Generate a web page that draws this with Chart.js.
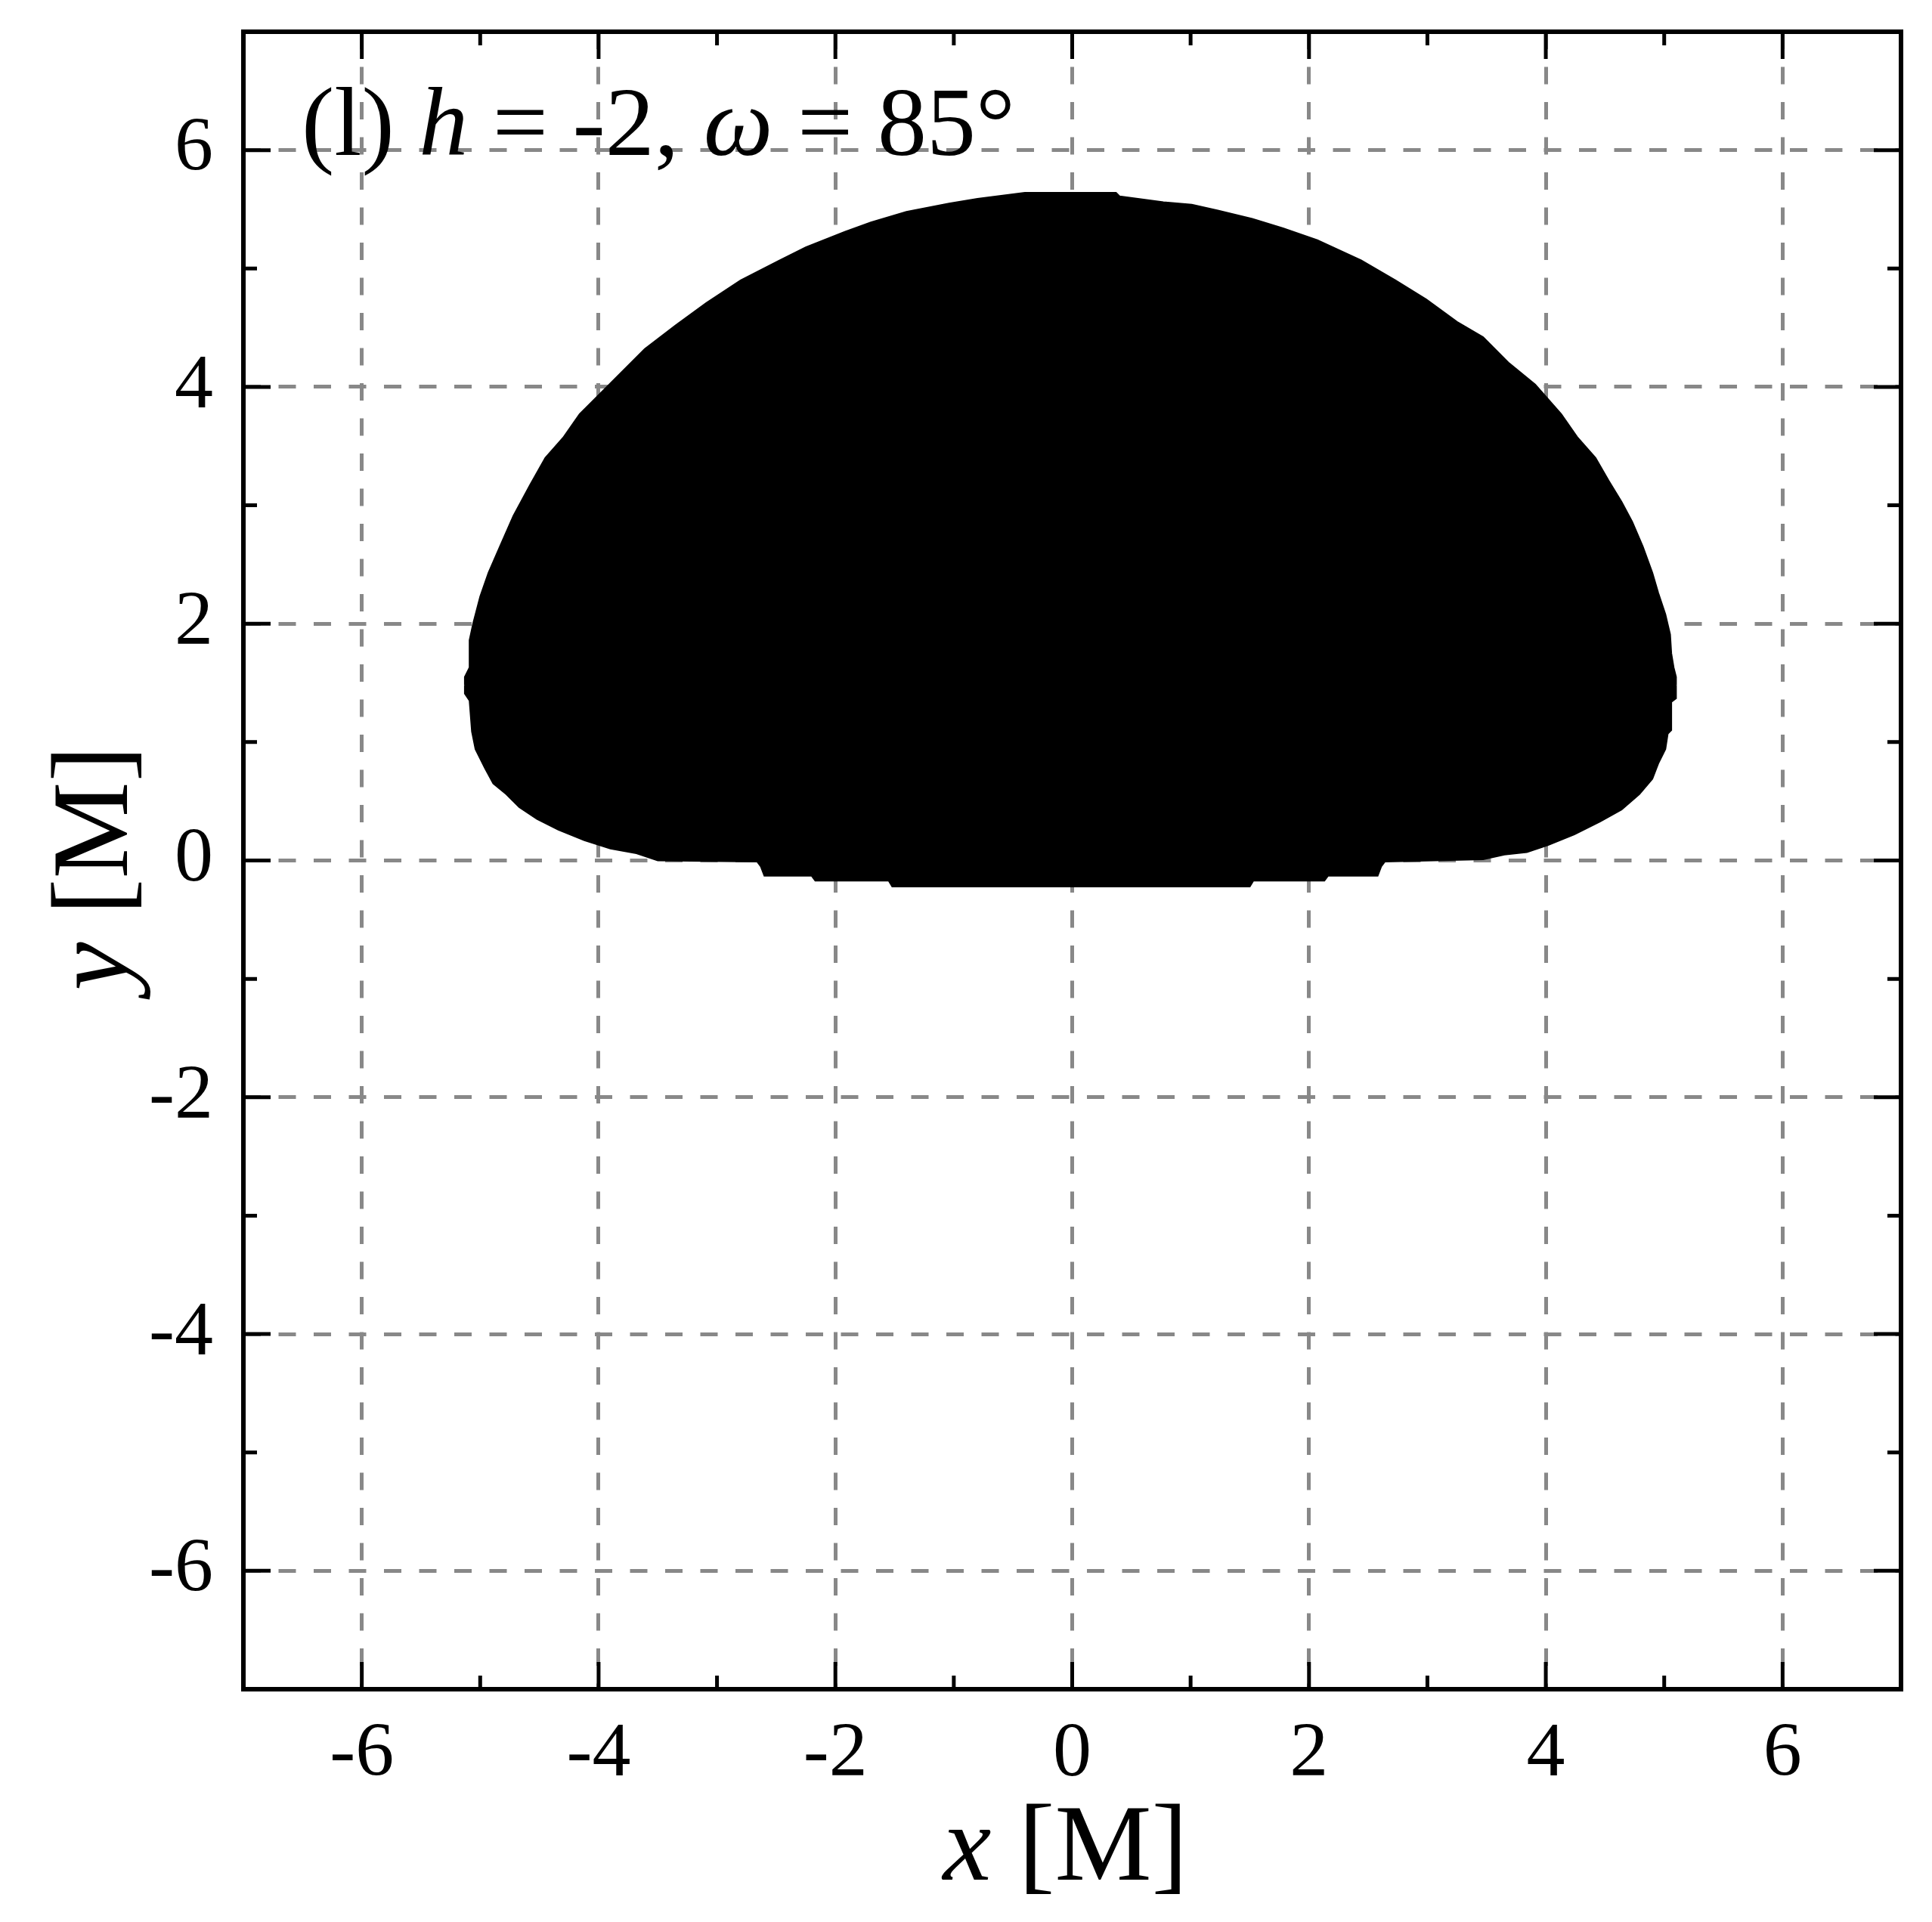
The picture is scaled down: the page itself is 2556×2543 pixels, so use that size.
<!DOCTYPE html>
<html>
<head>
<meta charset="utf-8">
<script src="https://cdn.jsdelivr.net/npm/chart.js@4.4.0/dist/chart.umd.min.js"></script>
<style>
  html, body { margin: 0; padding: 0; background: #fff; }
  #wrap { width: 2556px; height: 2543px; }
</style>
</head>
<body>
<div id="wrap"><canvas id="chart" width="2556" height="2543"></canvas></div>
<script>
// shadow outline, [x, y] in M
const upperEdge = [
  [-5.13, 1.48], [-5.13, 1.55], [-5.09, 1.63], [-5.09, 1.86], [-5.06, 2.00],
  [-5.00, 2.23], [-4.93, 2.43], [-4.83, 2.66], [-4.72, 2.91], [-4.58, 3.17],
  [-4.45, 3.40], [-4.30, 3.57], [-4.16, 3.77], [-3.90, 4.03], [-3.61, 4.32],
  [-3.35, 4.52], [-3.09, 4.71], [-2.80, 4.90], [-2.47, 5.07], [-2.25, 5.18],
  [-1.92, 5.31], [-1.70, 5.39], [-1.40, 5.48], [-1.04, 5.55], [-0.80, 5.59],
  [-0.40, 5.64], [0.37, 5.64], [0.40, 5.61], [0.77, 5.56], [1.01, 5.54],
  [1.23, 5.49], [1.52, 5.42], [1.78, 5.34], [2.07, 5.24], [2.44, 5.07],
  [2.73, 4.90], [2.99, 4.74], [3.25, 4.55], [3.47, 4.42], [3.69, 4.20],
  [3.91, 4.02], [4.13, 3.77], [4.27, 3.57], [4.42, 3.40], [4.53, 3.21],
  [4.64, 3.03], [4.73, 2.86], [4.82, 2.65], [4.90, 2.43], [4.95, 2.26],
  [5.01, 2.08], [5.05, 1.91], [5.06, 1.75], [5.08, 1.63], [5.10, 1.55],
  [5.10, 1.48]
];
const lowerEdge = [
  [-5.13, 1.48], [-5.13, 1.41], [-5.09, 1.35], [-5.07, 1.09], [-5.04, 0.94],
  [-4.96, 0.78], [-4.89, 0.65], [-4.78, 0.56], [-4.67, 0.45], [-4.52, 0.35],
  [-4.34, 0.26], [-4.12, 0.17], [-3.90, 0.10], [-3.68, 0.06], [-3.50, 0.00],
  [-2.66, -0.01], [-2.63, -0.05], [-2.60, -0.13], [-2.20, -0.13], [-2.17, -0.17],
  [-1.55, -0.17], [-1.52, -0.22], [1.50, -0.22], [1.53, -0.17], [2.13, -0.17],
  [2.16, -0.13], [2.58, -0.13], [2.61, -0.05], [2.64, -0.01], [3.47, 0.01],
  [3.65, 0.05], [3.84, 0.07], [4.02, 0.13], [4.24, 0.22], [4.46, 0.33],
  [4.64, 0.43], [4.79, 0.56], [4.90, 0.69], [4.95, 0.82], [5.01, 0.94],
  [5.03, 1.07], [5.06, 1.10], [5.06, 1.34], [5.10, 1.37], [5.10, 1.48]
];
const tickValues = [-6, -5, -4, -3, -2, -1, 0, 1, 2, 3, 4, 5, 6];
const labelValues = [-6, -4, -2, 0, 2, 4, 6];
const axisMin = -7, axisMax = 7;

const panelTitle = [['(l) ', false], ['h', true], [' = -2, ', false], ['\u03C9', true], [' = 85\u00B0', false]];
const xTitle = [['x', true], [' [M]', false]];
const yTitle = [['y', true], [' [M]', false]];

const FONT = '"Liberation Serif", "Times New Roman", serif';

function runsWidth(ctx, runs, size) {
  let w = 0;
  for (const [t, it] of runs) {
    ctx.font = (it ? 'italic ' : '') + size + 'px ' + FONT;
    w += ctx.measureText(t).width;
  }
  return w;
}
function drawRuns(ctx, runs, x, y, size) {
  for (const [t, it] of runs) {
    ctx.font = (it ? 'italic ' : '') + size + 'px ' + FONT;
    ctx.fillText(t, x, y);
    x += ctx.measureText(t).width;
  }
}

// frame, inward ticks on all four sides and the text labels
const framePlugin = {
  id: 'frame',
  afterDraw(chart) {
    const { ctx, chartArea: a, scales: { x, y } } = chart;
    ctx.save();
    ctx.strokeStyle = '#000';
    ctx.lineWidth = 5;
    ctx.beginPath();
    tickValues.forEach(v => {
      const len = labelValues.includes(v) ? 36 : 18;
      const px = x.getPixelForValue(v);
      ctx.moveTo(px, a.bottom); ctx.lineTo(px, a.bottom - len);
      ctx.moveTo(px, a.top); ctx.lineTo(px, a.top + len);
      const py = y.getPixelForValue(v);
      ctx.moveTo(a.left, py); ctx.lineTo(a.left + len, py);
      ctx.moveTo(a.right, py); ctx.lineTo(a.right - len, py);
    });
    ctx.stroke();
    ctx.lineWidth = 6;
    ctx.strokeRect(a.left, a.top, a.right - a.left, a.bottom - a.top);

    ctx.fillStyle = '#000';
    ctx.textBaseline = 'alphabetic';
    ctx.textAlign = 'left';
    drawRuns(ctx, panelTitle, a.left + 77, a.top + 163, 130);

    const xs = 144;
    const xw = runsWidth(ctx, xTitle, xs);
    drawRuns(ctx, xTitle, (a.left + a.right) / 2 - 9 - xw / 2, a.bottom + 252, xs);

    const yw = runsWidth(ctx, yTitle, xs);
    ctx.translate(168, (a.top + a.bottom) / 2 + 10);
    ctx.rotate(-Math.PI / 2);
    drawRuns(ctx, yTitle, -yw / 2, 0, xs);
    ctx.restore();
  }
};

const tickFont = { family: FONT, size: 102 };

function axis(position, width, height, pad) {
  return {
    type: 'linear',
    position: position,
    min: axisMin,
    max: axisMax,
    afterBuildTicks: s => { s.ticks = tickValues.map(v => ({ value: v })); },
    afterFit: s => {
      if (width) s.width = width;
      if (height) s.height = height;
      // the end labels are not at the axis ends, keep the plot area fixed
      s.paddingTop = 0; s.paddingBottom = 0;
      s.paddingLeft = 0; s.paddingRight = 0;
    },
    ticks: {
      autoSkip: false,
      maxRotation: 0,
      padding: pad,
      color: '#000',
      font: tickFont,
      callback: v => labelValues.includes(v) ? String(v) : ''
    },
    grid: {
      drawTicks: false,
      lineWidth: 5,
      color: c => (c.tick && labelValues.includes(c.tick.value)) ? '#888888' : 'rgba(0,0,0,0)'
    },
    border: { display: false, dash: [23, 23.5] }
  };
}

new Chart(document.getElementById('chart'), {
  type: 'scatter',
  data: {
    datasets: [
      {
        data: upperEdge.map(([x, y]) => ({ x, y })),
        showLine: true,
        fill: '+1',
        backgroundColor: '#000',
        borderColor: '#000',
        borderWidth: 2,
        pointRadius: 0
      },
      {
        data: lowerEdge.map(([x, y]) => ({ x, y })),
        showLine: true,
        fill: false,
        backgroundColor: '#000',
        borderColor: '#000',
        borderWidth: 2,
        pointRadius: 0
      }
    ]
  },
  options: {
    responsive: false,
    devicePixelRatio: 1,
    animation: false,
    layout: { padding: { left: 0, top: 42, right: 41, bottom: 0 } },
    plugins: { legend: { display: false }, tooltip: { enabled: false } },
    scales: {
      x: axis('bottom', 0, 308, 26),
      y: axis('left', 322, 0, 40)
    }
  },
  plugins: [framePlugin]
});
</script>
</body>
</html>
